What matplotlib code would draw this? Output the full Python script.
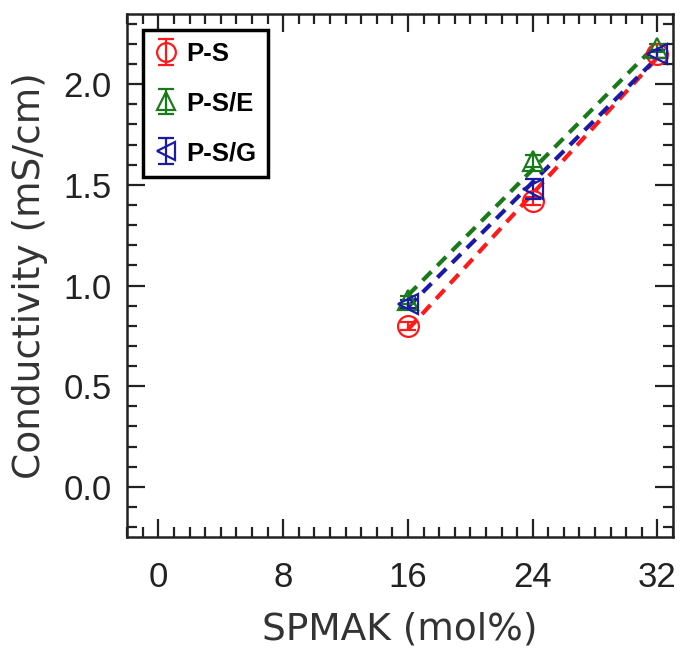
import numpy as np
import matplotlib.pyplot as plt
from matplotlib.ticker import MultipleLocator

plt.rcParams['font.family'] = ['Liberation Sans', 'DejaVu Sans']

spmak = np.array([16, 24, 32])
ps = np.array([0.80, 1.42, 2.15])
ps_err = np.array([0.02, 0.02, 0.02])
pse = np.array([0.93, 1.62, 2.18])
pse_err = np.array([0.02, 0.03, 0.02])
psg = np.array([0.91, 1.48, 2.15])
psg_err = np.array([0.02, 0.05, 0.02])

series = [
    ('P-S', ps, ps_err, 'o', '#ff1a1a'),
    ('P-S/E', pse, pse_err, '^', '#1a7a1a'),
    ('P-S/G', psg, psg_err, '<', '#1a1aa6'),
]

fig, ax = plt.subplots(figsize=(6.84, 6.52), dpi=100)
fig.subplots_adjust(left=0.186, right=0.984, top=0.979, bottom=0.176)

for name, y, err, mk, c in series:
    ax.errorbar(spmak, y, yerr=err, fmt=mk, mfc='none', mec=c, ecolor=c,
                ms=15, mew=1.6, elinewidth=1.6, capsize=6, capthick=1.6,
                label=name, zorder=3)
    # linear fit over the measured range
    k, b = np.polyfit(spmak, y, 1)
    xf = np.array([16, 32])
    ax.plot(xf, k * xf + b, '--', color=c, lw=3, dashes=(3, 2), zorder=2)

ax.set_xlim(-2, 33)
ax.set_ylim(-0.25, 2.35)
ax.xaxis.set_major_locator(MultipleLocator(8))
ax.xaxis.set_minor_locator(MultipleLocator(1))
ax.yaxis.set_major_locator(MultipleLocator(0.5))
ax.yaxis.set_minor_locator(MultipleLocator(0.1))
ax.tick_params(which='both', direction='in', top=True, right=True,
               width=1.6, labelsize=25, colors='#222222')
ax.tick_params(which='major', length=13)
ax.tick_params(axis='y', which='major', pad=11)
ax.tick_params(axis='x', which='major', pad=17)
ax.tick_params(which='minor', length=7)
for s in ax.spines.values():
    s.set_linewidth(1.8)
    s.set_color('#222222')

ax.set_xlabel('SPMAK (mol%)', fontsize=27, family='DejaVu Sans',
              color='#333333', labelpad=13)
ax.set_ylabel('Conductivity (mS/cm)', fontsize=27, family='DejaVu Sans',
              color='#333333', labelpad=11)

leg = ax.legend(loc='upper left', bbox_to_anchor=(0.005, 0.993),
                prop={'weight': 'bold', 'size': 18.5}, fancybox=False,
                edgecolor='black', handlelength=0.9, handletextpad=0.35,
                borderpad=0.45, labelspacing=1.0, markerscale=0.9,
                framealpha=1)
leg.get_frame().set_linewidth(2.5)

fig.savefig('out.png', dpi=100)
